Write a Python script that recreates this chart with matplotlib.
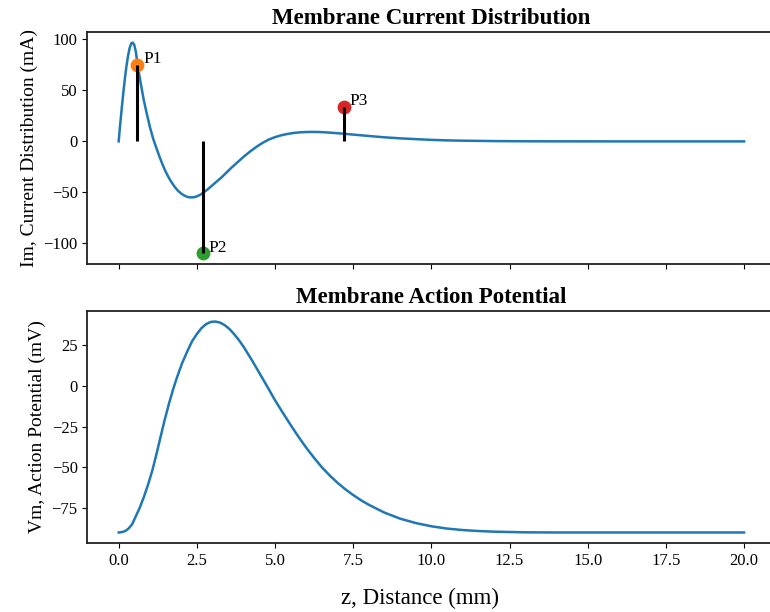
import matplotlib
matplotlib.use('Agg')
import matplotlib.pyplot as plt

# distance along the axon (mm) and membrane current (mA)
z_im = [0.0, 0.05, 0.1, 0.15, 0.2, 0.25, 0.3, 0.35, 0.4, 0.45, 0.5, 0.55,
        0.6, 0.65, 0.7, 0.8, 0.9, 1.0, 1.1, 1.2, 1.3, 1.4, 1.5, 1.6, 1.7,
        1.8, 1.9, 2.0, 2.1, 2.2, 2.3, 2.4, 2.5, 2.6, 2.7, 2.85, 3.0, 3.15,
        3.3, 3.45, 3.6, 3.8, 4.0, 4.2, 4.4, 4.6, 4.8, 5.0, 5.2, 5.4, 5.6,
        5.8, 6.0, 6.2, 6.4, 6.6, 6.8, 7.0, 7.2, 7.6, 8.0, 8.5, 9.0, 9.5,
        10.0, 10.5, 11.0, 12.0, 13.0, 14.0, 16.0, 20.0]
im = [0.0, 17.0, 33.0, 48.0, 62.0, 74.0, 84.0, 91.5, 96.0, 97.0, 94.5,
      88.0, 76.0, 67.0, 58.0, 41.0, 27.0, 14.0, 3.0, -6.0, -14.5, -22.5,
      -29.5, -35.5, -40.5, -45.0, -48.5, -51.2, -53.2, -54.5, -55.0,
      -54.8, -54.0, -52.5, -50.5, -47.0, -43.0, -39.0, -35.0, -30.5,
      -26.0, -20.5, -15.0, -10.0, -5.5, -1.5, 1.8, 4.2, 6.0, 7.3, 8.3,
      8.9, 9.2, 9.3, 9.2, 8.9, 8.5, 8.0, 7.5, 6.4, 5.3, 4.0, 3.0, 2.2,
      1.5, 1.0, 0.7, 0.3, 0.1, 0.05, 0.0, 0.0]

# sample points marked on the current curve
p_names = ['P1', 'P2', 'P3']
p_z = [0.6, 2.7, 7.2]
p_im = [75.0, -110.0, 34.0]
p_colors = ['tab:orange', 'tab:green', 'tab:red']

# membrane potential (mV)
z_vm = [0.0, 0.1, 0.22, 0.32, 0.43, 0.54, 0.67, 0.81, 0.95, 1.08, 1.21,
        1.34, 1.47, 1.61, 1.74, 1.87, 2.03, 2.19, 2.35, 2.51, 2.65, 2.8,
        2.95, 3.1, 3.25, 3.4, 3.55, 3.7, 3.85, 4.0, 4.27, 4.54, 4.77, 5.0,
        5.25, 5.5, 5.75, 6.0, 6.25, 6.5, 6.75, 7.0, 7.25, 7.5, 7.75, 8.0,
        8.5, 9.0, 9.5, 10.0, 10.5, 11.0, 11.5, 12.0, 13.0, 14.0, 20.0]
vm = [-90.0, -89.8, -89.0, -87.5, -85.0, -80.4, -75.0, -68.0, -60.0,
      -51.7, -41.8, -31.3, -21.0, -10.8, -2.2, 5.5, 14.0, 21.0, 27.5,
      32.1, 35.5, 38.0, 39.3, 39.5, 38.8, 37.2, 34.8, 31.6, 28.0, 23.9,
      15.5, 6.6, -1.0, -8.8, -16.5, -24.0, -31.2, -38.0, -44.2, -50.0,
      -55.0, -59.5, -63.5, -67.0, -70.2, -73.0, -77.8, -81.5, -84.2,
      -86.2, -87.6, -88.5, -89.1, -89.5, -89.9, -90.0, -90.0]

plt.rcParams['font.family'] = ['Liberation Serif', 'DejaVu Serif']
plt.rcParams['font.size'] = 12

fig = plt.figure(figsize=(7.7, 6.12), dpi=100)
ax1 = fig.add_axes([0.1135, 0.5686, 0.8934, 0.3791])
ax2 = fig.add_axes([0.1135, 0.1127, 0.8934, 0.3791], sharex=ax1)

ax1.plot(z_im, im, color='tab:blue', lw=1.8)
for name, z, val, c in zip(p_names, p_z, p_im, p_colors):
    ax1.scatter(z, val, s=80, color=c, zorder=3)
    ax1.vlines(z, 0, val, color='black', lw=2.2, zorder=4)
    ax1.annotate(name, (z, val), xytext=(4, 4), textcoords='offset points',
                 ha='left', va='center', fontsize=12.5)
ax1.set_title('Membrane Current Distribution', fontsize=16.5,
              fontweight='bold')
ax1.set_ylabel('Im, Current Distribution (mA)', fontsize=14)
ax1.tick_params(labelbottom=False)

ax2.plot(z_vm, vm, color='tab:blue', lw=1.8)
ax2.set_title('Membrane Action Potential', fontsize=16.5, fontweight='bold')
ax2.set_ylabel('Vm, Action Potential (mV)', fontsize=14)
ax2.set_xlabel('z, Distance (mm)', fontsize=16.5, labelpad=14)
ax2.xaxis.label.set_x(0.4835)
ax2.set_xticks([0, 2.5, 5, 7.5, 10, 12.5, 15, 17.5, 20])
ax2.set_yticks([25, 0, -25, -50, -75])
ax2.set_xlim(-1, 21)

for ax in (ax1, ax2):
    for s in ax.spines.values():
        s.set_linewidth(1.3)
        s.set_color('#222222')

fig.savefig('out.png', dpi=100)
